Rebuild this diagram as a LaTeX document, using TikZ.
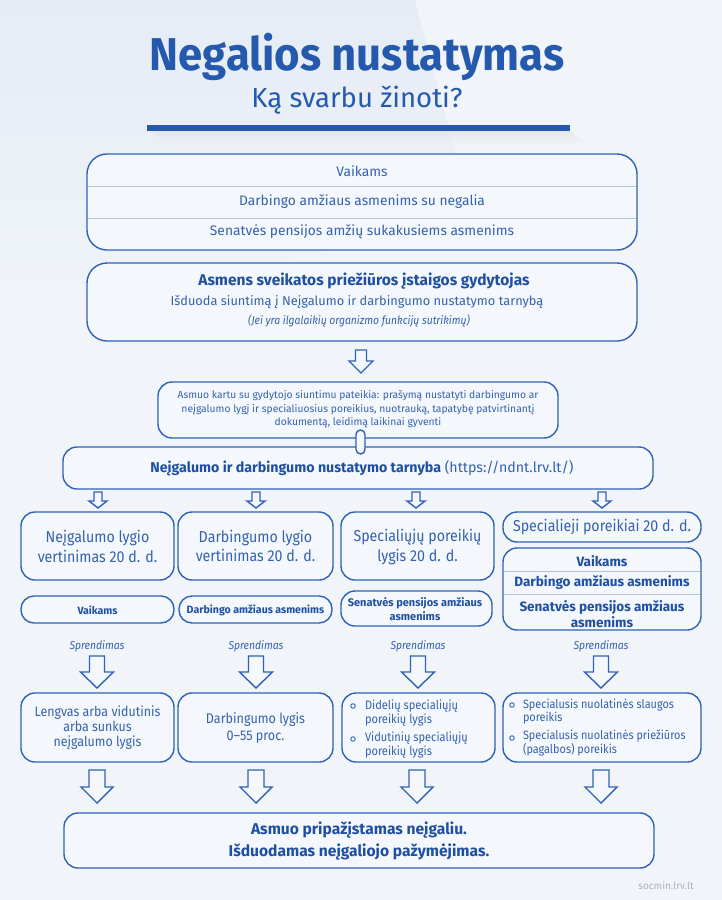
\documentclass[tikz,border=0pt]{standalone}
\usepackage{fontspec}
\usepackage{graphicx}
\setmainfont{Fira Sans}
\newfontfamily\nf{Fira Sans}[FakeStretch=0.9]
\usetikzlibrary{calc}
\definecolor{bg}{HTML}{F1F5FA}
\definecolor{bgd}{HTML}{E6ECF5}
\definecolor{boxf}{HTML}{F4F8FC}
\definecolor{ln}{HTML}{2F62B6}
\definecolor{tx}{HTML}{3561AD}
\definecolor{txd}{HTML}{1F4FA0}
\definecolor{ttl}{HTML}{2459AD}
\definecolor{sep}{HTML}{B9C1CD}
\definecolor{foot}{HTML}{A9B1BD}
\newcommand\rbox[6]{\node[box,#2,minimum width={#5-#3},minimum height={#6-#4}] (#1) at ({(#3+#5)/2},{(#4+#6)/2}) {};}
\newcommand\barrow[6]{\draw[arr] ({#1-#5},#2) -- ({#1+#5},#2) -- ({#1+#5},#3) -- ({#1+#6},#3) -- (#1,#4) -- ({#1-#6},#3) -- ({#1-#5},#3) -- cycle;}
\newcommand\fs[1]{\fontsize{#1}{#1}\selectfont}
\begin{document}
\begin{tikzpicture}[x=1pt,y=-1pt,
  every node/.style={inner sep=0pt,outer sep=0pt},
  box/.style={draw=ln,line width=1.4pt,fill=boxf,rounded corners=14pt},
  arr/.style={draw=ln,line width=1.4pt,fill=boxf,line join=miter},
  sepline/.style={draw=sep,line width=0.8pt},
  t/.style={text=tx,align=center},
  tb/.style={text=txd,align=center,font=\bfseries},
  tl/.style={text=tx,align=left,anchor=west},
  dot/.style={draw=ln,line width=0.9pt,circle,minimum size=4.5pt}]
\useasboundingbox (0,0) rectangle (722,900);
% background
\fill[bg] (0,0) rectangle (722,900);
\shade[top color=bgd,bottom color=bg] (0,0) -- (415,0) -- (470,210) -- (0,340) -- cycle;
% title
\node[text=ttl,font=\bfseries\fs{46}] (title) at (357,57) {\scalebox{0.95}[1]{Negalios nustatymas}};
\node[text=ttl,font=\fs{27.5}] (subtitle) at (357,100) {Ką svarbu žinoti?};
\shade[top color=black!12,bottom color=bg,opacity=0.6] (152,131) -- (570,131) -- (590,146) -- (168,146) -- cycle;
\fill[ttl] (147,125) rectangle (570,131);
% box 1
\rbox{groups}{rounded corners=20pt}{87}{154}{637}{250}
\draw[sepline] (88,186) -- (636,186);
\draw[sepline] (88,218) -- (636,218);
\node[t,font=\fs{13.8}] (g1) at (362,171) {Vaikams};
\node[t,font=\fs{13.8}] (g2) at (362,202) {Darbingo amžiaus asmenims su negalia};
\node[t,font=\fs{13.8}] (g3) at (362,232) {Senatvės pensijos amžių sukakusiems asmenims};
% box 2
\rbox{doctor}{rounded corners=20pt}{87}{263}{637}{341}
\node[tb,font=\bfseries\fs{15.5}] (d1) at (364,281) {Asmens sveikatos priežiūros įstaigos gydytojas};
\node[t,font=\fs{12.8}] (d2) at (357,302) {Išduoda siuntimą į Neįgalumo ir darbingumo nustatymo tarnybą};
\node[t,font=\nf\itshape\fs{11.5}] (d3) at (359,321) {(Jei yra ilgalaikių organizmo funkcijų sutrikimų)};
\barrow{361}{350}{361}{373}{5.5}{12}
% box 3
\rbox{docs}{}{158}{382}{558}{438}
\node[t,font=\fs{10.3}] (s1) at (358,396) {Asmuo kartu su gydytojo siuntimu pateikia: prašymą nustatyti darbingumo ar};
\node[t,font=\fs{10.3}] (s2) at (358,410) {neįgalumo lygį ir specialiuosius poreikius, nuotrauką, tapatybę patvirtinantį};
\node[t,font=\fs{10.3}] (s3) at (358,423) {dokumentą, leidimą laikinai gyventi};
% ndnt
\rbox{ndnt}{}{63}{447}{653}{489}
\node[t,font=\fs{14.2}] (n1) at (362,468) {\textcolor{txd}{\bfseries Neįgalumo ir darbingumo nustatymo tarnyba} (https://ndnt.lrv.lt/)};
\node[box,rounded corners=4.5pt,minimum width=9pt,minimum height=24pt] (pill) at (360.5,442) {};
% small arrows
\barrow{98}{492}{501}{508}{4}{9}
\barrow{256}{492}{501}{508}{4}{9}
\barrow{416}{492}{501}{508}{4}{9}
\barrow{602}{492}{501}{508}{4}{9}
% column headers
\rbox{c1}{}{21}{512}{174}{580}
\rbox{c2}{}{178}{512}{333}{580}
\rbox{c3}{}{341}{512}{494}{580}
\rbox{c4}{}{503}{512}{701}{542}
\node[t,font=\nf\fs{15.8}] (c1t) at (97.5,546) {Neįgalumo lygio\\[3pt]vertinimas 20 d. d.};
\node[t,font=\nf\fs{15.8}] (c2t) at (255.5,546) {Darbingumo lygio\\[3pt]vertinimas 20 d. d.};
\node[t,font=\nf\fs{15.8}] (c3t) at (417.5,547) {Specialiųjų poreikių\\[3pt]lygis 20 d. d.};
\node[t,font=\nf\fs{15.8}] (c4t) at (602,527) {Specialieji poreikiai 20 d. d.};
% pills
\rbox{p1}{rounded corners=13pt}{21}{596}{174}{623}
\rbox{p2}{rounded corners=13pt}{179}{596}{332}{623}
\rbox{p3}{rounded corners=14pt}{341}{591}{492}{626}
\node[tb,font=\bfseries\fs{10.6}] (p1t) at (97.5,610) {Vaikams};
\node[tb,font=\bfseries\fs{10.6}] (p2t) at (255.5,610) {Darbingo amžiaus asmenims};
\node[tb,font=\bfseries\fs{11}] (p3t) at (415,609) {Senatvės pensijos amžiaus\\[1pt]asmenims};
\rbox{c4b}{}{503}{548}{701}{630}
\draw[sepline] (504,571) -- (700,571);
\draw[sepline] (504,594) -- (700,594);
\node[tb,font=\bfseries\fs{13.5}] (q1) at (602,561) {Vaikams};
\node[tb,font=\bfseries\fs{13.5}] (q2) at (602,583) {Darbingo amžiaus asmenims};
\node[tb,font=\bfseries\fs{13.5}] (q3) at (602,614) {Senatvės pensijos amžiaus\\[1pt]asmenims};
% Sprendimas
\foreach \x/\n in {97/a,256/b,418/c,601/d}{
  \node[t,font=\nf\itshape\fs{11.5}] (spr\n) at (\x,646) {Sprendimas};
  \barrow{\x}{656}{672}{688}{7.5}{16.5}
}
% results
\rbox{r1}{}{21}{693}{174}{762}
\rbox{r2}{}{178}{693}{333}{762}
\rbox{r3}{}{342}{693}{495}{762}
\rbox{r4}{}{503}{693}{701}{762}
\node[t,font=\nf\fs{13.8}] (r1t) at (97.5,728) {Lengvas arba vidutinis\\[1pt]arba sunkus\\[1pt]neįgalumo lygis};
\node[t,font=\nf\fs{14}] (r2t) at (255.5,728) {Darbingumo lygis\\[3pt]0–55 proc.};
\node[dot] (b31) at (353,706) {};
\node[dot] (b32) at (353,739) {};
\node[tl,font=\nf\fs{12.3}] (r3a) at (365,713) {Didelių specialiųjų\\[1pt]poreikių lygis};
\node[tl,font=\nf\fs{12.3}] (r3b) at (365,745) {Vidutinių specialiųjų\\[1pt]poreikių lygis};
\node[dot] (b41) at (512,705) {};
\node[dot] (b42) at (512,738) {};
\node[tl,font=\nf\fs{12.1}] (r4a) at (523,712) {Specialusis nuolatinės slaugos\\[1pt]poreikis};
\node[tl,font=\nf\fs{12.1}] (r4b) at (523,743) {Specialusis nuolatinės priežiūros\\[1pt](pagalbos) poreikis};
% bottom arrows
\foreach \x in {97,256,417,601}{\barrow{\x}{770}{787}{803}{8}{16}}
\rbox{final}{}{64}{813}{654}{868}
\node[tb,font=\bfseries\fs{15.6}] (f1) at (359,841) {Asmuo pripažįstamas neįgaliu.\\[4pt]Išduodamas neįgaliojo pažymėjimas.};
\node[text=foot,font=\fs{10}] (foot) at (666,886) {socmin.lrv.lt};
\end{tikzpicture}
\end{document}
